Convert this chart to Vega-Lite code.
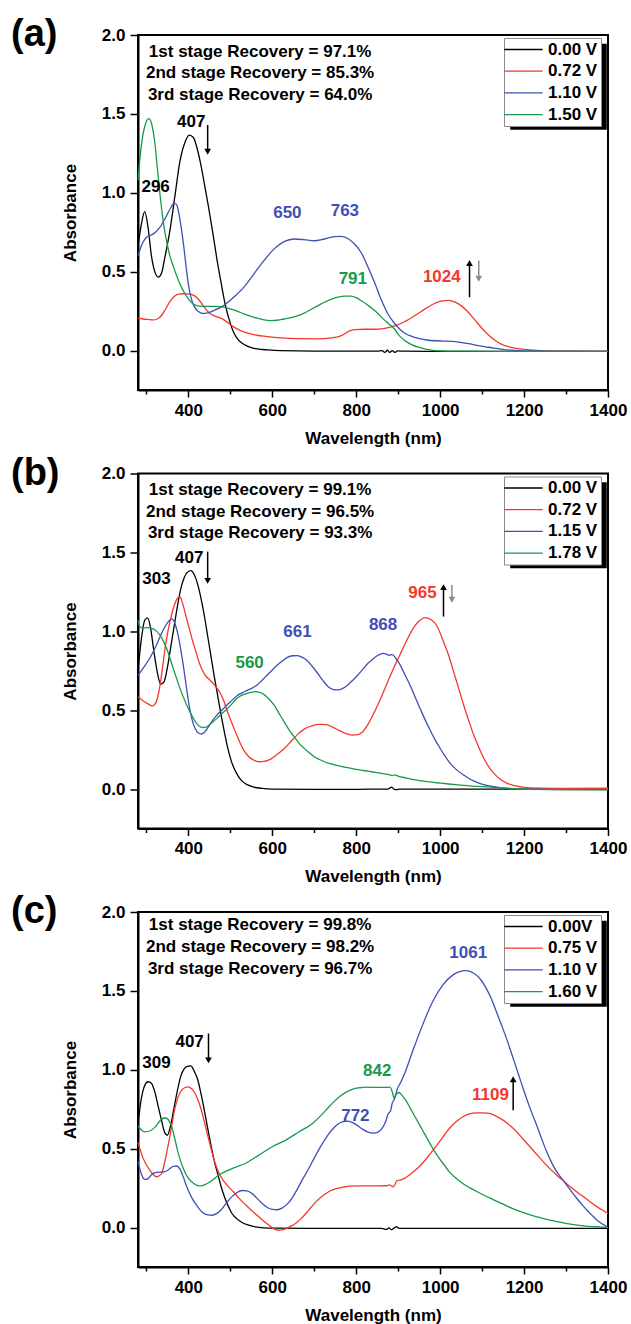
{
"$schema": "https://vega.github.io/schema/vega-lite/v6.json",
"background": "white",
"padding": {"left": 10, "top": 15, "right": 0, "bottom": 0},
"datasets": {
"lines": [
{"p":"a","s":"0.00 V","w":280,"a":0.66},{"p":"a","s":"0.00 V","w":288,"a":0.8},{"p":"a","s":"0.00 V","w":296,"a":0.88},{"p":"a","s":"0.00 V","w":304,"a":0.78},{"p":"a","s":"0.00 V","w":312,"a":0.6},{"p":"a","s":"0.00 V","w":320,"a":0.5},{"p":"a","s":"0.00 V","w":328,"a":0.465},{"p":"a","s":"0.00 V","w":336,"a":0.49},{"p":"a","s":"0.00 V","w":344,"a":0.59},{"p":"a","s":"0.00 V","w":356,"a":0.76},{"p":"a","s":"0.00 V","w":368,"a":0.98},{"p":"a","s":"0.00 V","w":380,"a":1.2},{"p":"a","s":"0.00 V","w":392,"a":1.32},{"p":"a","s":"0.00 V","w":402,"a":1.365},{"p":"a","s":"0.00 V","w":412,"a":1.35},{"p":"a","s":"0.00 V","w":420,"a":1.29},{"p":"a","s":"0.00 V","w":428,"a":1.2},{"p":"a","s":"0.00 V","w":438,"a":1.06},{"p":"a","s":"0.00 V","w":448,"a":0.91},{"p":"a","s":"0.00 V","w":458,"a":0.75},{"p":"a","s":"0.00 V","w":468,"a":0.58},{"p":"a","s":"0.00 V","w":478,"a":0.43},{"p":"a","s":"0.00 V","w":488,"a":0.29},{"p":"a","s":"0.00 V","w":498,"a":0.19},{"p":"a","s":"0.00 V","w":508,"a":0.115},{"p":"a","s":"0.00 V","w":520,"a":0.065},{"p":"a","s":"0.00 V","w":532,"a":0.04},{"p":"a","s":"0.00 V","w":548,"a":0.02},{"p":"a","s":"0.00 V","w":564,"a":0.01},{"p":"a","s":"0.00 V","w":590,"a":0.004},{"p":"a","s":"0.00 V","w":620,"a":0},{"p":"a","s":"0.00 V","w":700,"a":-0.003},{"p":"a","s":"0.00 V","w":800,"a":-0.003},{"p":"a","s":"0.00 V","w":850,"a":-0.004},{"p":"a","s":"0.00 V","w":862,"a":0},{"p":"a","s":"0.00 V","w":868,"a":-0.012},{"p":"a","s":"0.00 V","w":874,"a":0.002},{"p":"a","s":"0.00 V","w":880,"a":-0.012},{"p":"a","s":"0.00 V","w":886,"a":0},{"p":"a","s":"0.00 V","w":892,"a":-0.012},{"p":"a","s":"0.00 V","w":898,"a":-0.002},{"p":"a","s":"0.00 V","w":920,"a":-0.004},{"p":"a","s":"0.00 V","w":1000,"a":-0.005},{"p":"a","s":"0.00 V","w":1100,"a":-0.005},{"p":"a","s":"0.00 V","w":1200,"a":-0.005},{"p":"a","s":"0.00 V","w":1300,"a":-0.005},{"p":"a","s":"0.00 V","w":1400,"a":-0.005},
{"p":"a","s":"0.72 V","w":280,"a":0.205},{"p":"a","s":"0.72 V","w":292,"a":0.2},{"p":"a","s":"0.72 V","w":304,"a":0.197},{"p":"a","s":"0.72 V","w":316,"a":0.194},{"p":"a","s":"0.72 V","w":326,"a":0.2},{"p":"a","s":"0.72 V","w":336,"a":0.222},{"p":"a","s":"0.72 V","w":346,"a":0.265},{"p":"a","s":"0.72 V","w":356,"a":0.31},{"p":"a","s":"0.72 V","w":366,"a":0.342},{"p":"a","s":"0.72 V","w":376,"a":0.358},{"p":"a","s":"0.72 V","w":390,"a":0.36},{"p":"a","s":"0.72 V","w":404,"a":0.358},{"p":"a","s":"0.72 V","w":414,"a":0.348},{"p":"a","s":"0.72 V","w":424,"a":0.325},{"p":"a","s":"0.72 V","w":434,"a":0.29},{"p":"a","s":"0.72 V","w":444,"a":0.255},{"p":"a","s":"0.72 V","w":454,"a":0.232},{"p":"a","s":"0.72 V","w":466,"a":0.215},{"p":"a","s":"0.72 V","w":478,"a":0.205},{"p":"a","s":"0.72 V","w":490,"a":0.185},{"p":"a","s":"0.72 V","w":502,"a":0.16},{"p":"a","s":"0.72 V","w":516,"a":0.137},{"p":"a","s":"0.72 V","w":532,"a":0.118},{"p":"a","s":"0.72 V","w":548,"a":0.105},{"p":"a","s":"0.72 V","w":564,"a":0.097},{"p":"a","s":"0.72 V","w":580,"a":0.091},{"p":"a","s":"0.72 V","w":600,"a":0.085},{"p":"a","s":"0.72 V","w":620,"a":0.08},{"p":"a","s":"0.72 V","w":660,"a":0.075},{"p":"a","s":"0.72 V","w":708,"a":0.074},{"p":"a","s":"0.72 V","w":740,"a":0.08},{"p":"a","s":"0.72 V","w":760,"a":0.09},{"p":"a","s":"0.72 V","w":772,"a":0.105},{"p":"a","s":"0.72 V","w":784,"a":0.125},{"p":"a","s":"0.72 V","w":796,"a":0.133},{"p":"a","s":"0.72 V","w":820,"a":0.135},{"p":"a","s":"0.72 V","w":844,"a":0.135},{"p":"a","s":"0.72 V","w":868,"a":0.141},{"p":"a","s":"0.72 V","w":892,"a":0.156},{"p":"a","s":"0.72 V","w":916,"a":0.184},{"p":"a","s":"0.72 V","w":940,"a":0.222},{"p":"a","s":"0.72 V","w":964,"a":0.264},{"p":"a","s":"0.72 V","w":988,"a":0.3},{"p":"a","s":"0.72 V","w":1004,"a":0.315},{"p":"a","s":"0.72 V","w":1020,"a":0.318},{"p":"a","s":"0.72 V","w":1036,"a":0.307},{"p":"a","s":"0.72 V","w":1052,"a":0.28},{"p":"a","s":"0.72 V","w":1068,"a":0.24},{"p":"a","s":"0.72 V","w":1084,"a":0.19},{"p":"a","s":"0.72 V","w":1100,"a":0.14},{"p":"a","s":"0.72 V","w":1116,"a":0.097},{"p":"a","s":"0.72 V","w":1132,"a":0.062},{"p":"a","s":"0.72 V","w":1148,"a":0.038},{"p":"a","s":"0.72 V","w":1172,"a":0.019},{"p":"a","s":"0.72 V","w":1200,"a":0.007},{"p":"a","s":"0.72 V","w":1240,"a":0},{"p":"a","s":"0.72 V","w":1300,"a":-0.004},{"p":"a","s":"0.72 V","w":1400,"a":-0.005},
{"p":"a","s":"1.10 V","w":280,"a":0.6},{"p":"a","s":"1.10 V","w":288,"a":0.665},{"p":"a","s":"1.10 V","w":296,"a":0.705},{"p":"a","s":"1.10 V","w":304,"a":0.725},{"p":"a","s":"1.10 V","w":316,"a":0.738},{"p":"a","s":"1.10 V","w":332,"a":0.78},{"p":"a","s":"1.10 V","w":348,"a":0.854},{"p":"a","s":"1.10 V","w":358,"a":0.905},{"p":"a","s":"1.10 V","w":366,"a":0.935},{"p":"a","s":"1.10 V","w":372,"a":0.925},{"p":"a","s":"1.10 V","w":378,"a":0.86},{"p":"a","s":"1.10 V","w":384,"a":0.76},{"p":"a","s":"1.10 V","w":390,"a":0.64},{"p":"a","s":"1.10 V","w":396,"a":0.5},{"p":"a","s":"1.10 V","w":402,"a":0.39},{"p":"a","s":"1.10 V","w":408,"a":0.32},{"p":"a","s":"1.10 V","w":414,"a":0.28},{"p":"a","s":"1.10 V","w":424,"a":0.247},{"p":"a","s":"1.10 V","w":434,"a":0.235},{"p":"a","s":"1.10 V","w":444,"a":0.237},{"p":"a","s":"1.10 V","w":460,"a":0.253},{"p":"a","s":"1.10 V","w":484,"a":0.285},{"p":"a","s":"1.10 V","w":508,"a":0.338},{"p":"a","s":"1.10 V","w":532,"a":0.4},{"p":"a","s":"1.10 V","w":556,"a":0.485},{"p":"a","s":"1.10 V","w":580,"a":0.57},{"p":"a","s":"1.10 V","w":604,"a":0.643},{"p":"a","s":"1.10 V","w":628,"a":0.69},{"p":"a","s":"1.10 V","w":652,"a":0.707},{"p":"a","s":"1.10 V","w":676,"a":0.703},{"p":"a","s":"1.10 V","w":700,"a":0.696},{"p":"a","s":"1.10 V","w":724,"a":0.707},{"p":"a","s":"1.10 V","w":748,"a":0.722},{"p":"a","s":"1.10 V","w":764,"a":0.724},{"p":"a","s":"1.10 V","w":780,"a":0.71},{"p":"a","s":"1.10 V","w":796,"a":0.675},{"p":"a","s":"1.10 V","w":812,"a":0.62},{"p":"a","s":"1.10 V","w":828,"a":0.53},{"p":"a","s":"1.10 V","w":844,"a":0.43},{"p":"a","s":"1.10 V","w":860,"a":0.32},{"p":"a","s":"1.10 V","w":876,"a":0.23},{"p":"a","s":"1.10 V","w":892,"a":0.17},{"p":"a","s":"1.10 V","w":904,"a":0.135},{"p":"a","s":"1.10 V","w":916,"a":0.11},{"p":"a","s":"1.10 V","w":932,"a":0.09},{"p":"a","s":"1.10 V","w":948,"a":0.077},{"p":"a","s":"1.10 V","w":968,"a":0.067},{"p":"a","s":"1.10 V","w":988,"a":0.062},{"p":"a","s":"1.10 V","w":1008,"a":0.06},{"p":"a","s":"1.10 V","w":1028,"a":0.058},{"p":"a","s":"1.10 V","w":1048,"a":0.052},{"p":"a","s":"1.10 V","w":1068,"a":0.044},{"p":"a","s":"1.10 V","w":1088,"a":0.033},{"p":"a","s":"1.10 V","w":1108,"a":0.024},{"p":"a","s":"1.10 V","w":1128,"a":0.015},{"p":"a","s":"1.10 V","w":1148,"a":0.008},{"p":"a","s":"1.10 V","w":1168,"a":0.003},{"p":"a","s":"1.10 V","w":1188,"a":0},{"p":"a","s":"1.10 V","w":1250,"a":-0.003},{"p":"a","s":"1.10 V","w":1400,"a":-0.005},
{"p":"a","s":"1.50 V","w":280,"a":1.08},{"p":"a","s":"1.50 V","w":288,"a":1.3},{"p":"a","s":"1.50 V","w":296,"a":1.42},{"p":"a","s":"1.50 V","w":306,"a":1.47},{"p":"a","s":"1.50 V","w":314,"a":1.42},{"p":"a","s":"1.50 V","w":320,"a":1.32},{"p":"a","s":"1.50 V","w":326,"a":1.16},{"p":"a","s":"1.50 V","w":332,"a":1.0},{"p":"a","s":"1.50 V","w":338,"a":0.86},{"p":"a","s":"1.50 V","w":344,"a":0.75},{"p":"a","s":"1.50 V","w":350,"a":0.67},{"p":"a","s":"1.50 V","w":356,"a":0.6},{"p":"a","s":"1.50 V","w":364,"a":0.535},{"p":"a","s":"1.50 V","w":372,"a":0.475},{"p":"a","s":"1.50 V","w":382,"a":0.41},{"p":"a","s":"1.50 V","w":392,"a":0.36},{"p":"a","s":"1.50 V","w":402,"a":0.32},{"p":"a","s":"1.50 V","w":412,"a":0.295},{"p":"a","s":"1.50 V","w":422,"a":0.283},{"p":"a","s":"1.50 V","w":432,"a":0.28},{"p":"a","s":"1.50 V","w":450,"a":0.28},{"p":"a","s":"1.50 V","w":468,"a":0.28},{"p":"a","s":"1.50 V","w":484,"a":0.275},{"p":"a","s":"1.50 V","w":500,"a":0.264},{"p":"a","s":"1.50 V","w":516,"a":0.25},{"p":"a","s":"1.50 V","w":532,"a":0.232},{"p":"a","s":"1.50 V","w":548,"a":0.218},{"p":"a","s":"1.50 V","w":564,"a":0.205},{"p":"a","s":"1.50 V","w":580,"a":0.195},{"p":"a","s":"1.50 V","w":596,"a":0.19},{"p":"a","s":"1.50 V","w":612,"a":0.192},{"p":"a","s":"1.50 V","w":628,"a":0.2},{"p":"a","s":"1.50 V","w":644,"a":0.208},{"p":"a","s":"1.50 V","w":660,"a":0.22},{"p":"a","s":"1.50 V","w":676,"a":0.237},{"p":"a","s":"1.50 V","w":692,"a":0.26},{"p":"a","s":"1.50 V","w":708,"a":0.283},{"p":"a","s":"1.50 V","w":724,"a":0.306},{"p":"a","s":"1.50 V","w":740,"a":0.325},{"p":"a","s":"1.50 V","w":756,"a":0.338},{"p":"a","s":"1.50 V","w":772,"a":0.345},{"p":"a","s":"1.50 V","w":788,"a":0.345},{"p":"a","s":"1.50 V","w":800,"a":0.335},{"p":"a","s":"1.50 V","w":812,"a":0.316},{"p":"a","s":"1.50 V","w":824,"a":0.295},{"p":"a","s":"1.50 V","w":836,"a":0.27},{"p":"a","s":"1.50 V","w":848,"a":0.245},{"p":"a","s":"1.50 V","w":860,"a":0.212},{"p":"a","s":"1.50 V","w":872,"a":0.182},{"p":"a","s":"1.50 V","w":884,"a":0.155},{"p":"a","s":"1.50 V","w":892,"a":0.135},{"p":"a","s":"1.50 V","w":898,"a":0.11},{"p":"a","s":"1.50 V","w":906,"a":0.085},{"p":"a","s":"1.50 V","w":916,"a":0.063},{"p":"a","s":"1.50 V","w":932,"a":0.038},{"p":"a","s":"1.50 V","w":948,"a":0.021},{"p":"a","s":"1.50 V","w":968,"a":0.008},{"p":"a","s":"1.50 V","w":988,"a":0},{"p":"a","s":"1.50 V","w":1050,"a":-0.004},{"p":"a","s":"1.50 V","w":1150,"a":-0.005},{"p":"a","s":"1.50 V","w":1400,"a":-0.005},

{"p":"b","s":"0.00 V","w":280,"a":0.75},{"p":"b","s":"0.00 V","w":288,"a":0.95},{"p":"b","s":"0.00 V","w":296,"a":1.07},{"p":"b","s":"0.00 V","w":303,"a":1.085},{"p":"b","s":"0.00 V","w":310,"a":1.02},{"p":"b","s":"0.00 V","w":318,"a":0.87},{"p":"b","s":"0.00 V","w":326,"a":0.74},{"p":"b","s":"0.00 V","w":334,"a":0.665},{"p":"b","s":"0.00 V","w":342,"a":0.68},{"p":"b","s":"0.00 V","w":350,"a":0.77},{"p":"b","s":"0.00 V","w":358,"a":0.9},{"p":"b","s":"0.00 V","w":366,"a":1.03},{"p":"b","s":"0.00 V","w":374,"a":1.16},{"p":"b","s":"0.00 V","w":382,"a":1.27},{"p":"b","s":"0.00 V","w":390,"a":1.34},{"p":"b","s":"0.00 V","w":398,"a":1.375},{"p":"b","s":"0.00 V","w":406,"a":1.385},{"p":"b","s":"0.00 V","w":414,"a":1.36},{"p":"b","s":"0.00 V","w":422,"a":1.3},{"p":"b","s":"0.00 V","w":430,"a":1.21},{"p":"b","s":"0.00 V","w":438,"a":1.1},{"p":"b","s":"0.00 V","w":446,"a":0.97},{"p":"b","s":"0.00 V","w":454,"a":0.84},{"p":"b","s":"0.00 V","w":462,"a":0.71},{"p":"b","s":"0.00 V","w":470,"a":0.59},{"p":"b","s":"0.00 V","w":478,"a":0.47},{"p":"b","s":"0.00 V","w":486,"a":0.36},{"p":"b","s":"0.00 V","w":494,"a":0.26},{"p":"b","s":"0.00 V","w":502,"a":0.18},{"p":"b","s":"0.00 V","w":510,"a":0.125},{"p":"b","s":"0.00 V","w":518,"a":0.085},{"p":"b","s":"0.00 V","w":528,"a":0.05},{"p":"b","s":"0.00 V","w":540,"a":0.028},{"p":"b","s":"0.00 V","w":556,"a":0.012},{"p":"b","s":"0.00 V","w":576,"a":0.004},{"p":"b","s":"0.00 V","w":600,"a":0},{"p":"b","s":"0.00 V","w":700,"a":-0.002},{"p":"b","s":"0.00 V","w":800,"a":-0.002},{"p":"b","s":"0.00 V","w":860,"a":0},{"p":"b","s":"0.00 V","w":876,"a":0},{"p":"b","s":"0.00 V","w":884,"a":0.012},{"p":"b","s":"0.00 V","w":890,"a":0},{"p":"b","s":"0.00 V","w":896,"a":-0.004},{"p":"b","s":"0.00 V","w":904,"a":0},{"p":"b","s":"0.00 V","w":1000,"a":0},{"p":"b","s":"0.00 V","w":1100,"a":0},{"p":"b","s":"0.00 V","w":1200,"a":0},{"p":"b","s":"0.00 V","w":1400,"a":0},
{"p":"b","s":"0.72 V","w":280,"a":0.585},{"p":"b","s":"0.72 V","w":292,"a":0.56},{"p":"b","s":"0.72 V","w":304,"a":0.54},{"p":"b","s":"0.72 V","w":314,"a":0.527},{"p":"b","s":"0.72 V","w":322,"a":0.545},{"p":"b","s":"0.72 V","w":330,"a":0.62},{"p":"b","s":"0.72 V","w":338,"a":0.76},{"p":"b","s":"0.72 V","w":346,"a":0.92},{"p":"b","s":"0.72 V","w":356,"a":1.06},{"p":"b","s":"0.72 V","w":366,"a":1.16},{"p":"b","s":"0.72 V","w":374,"a":1.21},{"p":"b","s":"0.72 V","w":380,"a":1.22},{"p":"b","s":"0.72 V","w":386,"a":1.18},{"p":"b","s":"0.72 V","w":394,"a":1.1},{"p":"b","s":"0.72 V","w":402,"a":1.02},{"p":"b","s":"0.72 V","w":410,"a":0.94},{"p":"b","s":"0.72 V","w":418,"a":0.87},{"p":"b","s":"0.72 V","w":426,"a":0.8},{"p":"b","s":"0.72 V","w":434,"a":0.75},{"p":"b","s":"0.72 V","w":442,"a":0.715},{"p":"b","s":"0.72 V","w":452,"a":0.69},{"p":"b","s":"0.72 V","w":462,"a":0.66},{"p":"b","s":"0.72 V","w":472,"a":0.625},{"p":"b","s":"0.72 V","w":482,"a":0.575},{"p":"b","s":"0.72 V","w":492,"a":0.5},{"p":"b","s":"0.72 V","w":502,"a":0.43},{"p":"b","s":"0.72 V","w":512,"a":0.364},{"p":"b","s":"0.72 V","w":522,"a":0.3},{"p":"b","s":"0.72 V","w":532,"a":0.247},{"p":"b","s":"0.72 V","w":544,"a":0.205},{"p":"b","s":"0.72 V","w":556,"a":0.183},{"p":"b","s":"0.72 V","w":568,"a":0.173},{"p":"b","s":"0.72 V","w":580,"a":0.175},{"p":"b","s":"0.72 V","w":596,"a":0.19},{"p":"b","s":"0.72 V","w":612,"a":0.22},{"p":"b","s":"0.72 V","w":628,"a":0.255},{"p":"b","s":"0.72 V","w":644,"a":0.3},{"p":"b","s":"0.72 V","w":660,"a":0.345},{"p":"b","s":"0.72 V","w":676,"a":0.38},{"p":"b","s":"0.72 V","w":696,"a":0.402},{"p":"b","s":"0.72 V","w":712,"a":0.41},{"p":"b","s":"0.72 V","w":728,"a":0.408},{"p":"b","s":"0.72 V","w":744,"a":0.392},{"p":"b","s":"0.72 V","w":760,"a":0.37},{"p":"b","s":"0.72 V","w":776,"a":0.352},{"p":"b","s":"0.72 V","w":792,"a":0.342},{"p":"b","s":"0.72 V","w":804,"a":0.345},{"p":"b","s":"0.72 V","w":816,"a":0.365},{"p":"b","s":"0.72 V","w":828,"a":0.41},{"p":"b","s":"0.72 V","w":840,"a":0.47},{"p":"b","s":"0.72 V","w":856,"a":0.56},{"p":"b","s":"0.72 V","w":872,"a":0.66},{"p":"b","s":"0.72 V","w":888,"a":0.76},{"p":"b","s":"0.72 V","w":904,"a":0.85},{"p":"b","s":"0.72 V","w":920,"a":0.94},{"p":"b","s":"0.72 V","w":936,"a":1.02},{"p":"b","s":"0.72 V","w":950,"a":1.065},{"p":"b","s":"0.72 V","w":964,"a":1.087},{"p":"b","s":"0.72 V","w":978,"a":1.075},{"p":"b","s":"0.72 V","w":992,"a":1.035},{"p":"b","s":"0.72 V","w":1008,"a":0.934},{"p":"b","s":"0.72 V","w":1020,"a":0.85},{"p":"b","s":"0.72 V","w":1032,"a":0.744},{"p":"b","s":"0.72 V","w":1044,"a":0.64},{"p":"b","s":"0.72 V","w":1056,"a":0.533},{"p":"b","s":"0.72 V","w":1068,"a":0.435},{"p":"b","s":"0.72 V","w":1080,"a":0.342},{"p":"b","s":"0.72 V","w":1092,"a":0.265},{"p":"b","s":"0.72 V","w":1104,"a":0.195},{"p":"b","s":"0.72 V","w":1116,"a":0.14},{"p":"b","s":"0.72 V","w":1128,"a":0.099},{"p":"b","s":"0.72 V","w":1144,"a":0.06},{"p":"b","s":"0.72 V","w":1160,"a":0.036},{"p":"b","s":"0.72 V","w":1180,"a":0.02},{"p":"b","s":"0.72 V","w":1200,"a":0.011},{"p":"b","s":"0.72 V","w":1240,"a":0.006},{"p":"b","s":"0.72 V","w":1300,"a":0.004},{"p":"b","s":"0.72 V","w":1400,"a":0.005},
{"p":"b","s":"1.15 V","w":280,"a":0.72},{"p":"b","s":"1.15 V","w":292,"a":0.765},{"p":"b","s":"1.15 V","w":308,"a":0.829},{"p":"b","s":"1.15 V","w":324,"a":0.913},{"p":"b","s":"1.15 V","w":340,"a":1.008},{"p":"b","s":"1.15 V","w":352,"a":1.06},{"p":"b","s":"1.15 V","w":360,"a":1.078},{"p":"b","s":"1.15 V","w":368,"a":1.05},{"p":"b","s":"1.15 V","w":376,"a":0.97},{"p":"b","s":"1.15 V","w":384,"a":0.85},{"p":"b","s":"1.15 V","w":392,"a":0.71},{"p":"b","s":"1.15 V","w":400,"a":0.56},{"p":"b","s":"1.15 V","w":408,"a":0.45},{"p":"b","s":"1.15 V","w":416,"a":0.385},{"p":"b","s":"1.15 V","w":424,"a":0.355},{"p":"b","s":"1.15 V","w":432,"a":0.349},{"p":"b","s":"1.15 V","w":440,"a":0.365},{"p":"b","s":"1.15 V","w":448,"a":0.395},{"p":"b","s":"1.15 V","w":458,"a":0.435},{"p":"b","s":"1.15 V","w":468,"a":0.469},{"p":"b","s":"1.15 V","w":480,"a":0.5},{"p":"b","s":"1.15 V","w":492,"a":0.533},{"p":"b","s":"1.15 V","w":504,"a":0.562},{"p":"b","s":"1.15 V","w":516,"a":0.592},{"p":"b","s":"1.15 V","w":528,"a":0.61},{"p":"b","s":"1.15 V","w":540,"a":0.625},{"p":"b","s":"1.15 V","w":552,"a":0.64},{"p":"b","s":"1.15 V","w":564,"a":0.66},{"p":"b","s":"1.15 V","w":576,"a":0.69},{"p":"b","s":"1.15 V","w":588,"a":0.723},{"p":"b","s":"1.15 V","w":600,"a":0.755},{"p":"b","s":"1.15 V","w":612,"a":0.786},{"p":"b","s":"1.15 V","w":624,"a":0.812},{"p":"b","s":"1.15 V","w":636,"a":0.835},{"p":"b","s":"1.15 V","w":648,"a":0.845},{"p":"b","s":"1.15 V","w":660,"a":0.846},{"p":"b","s":"1.15 V","w":672,"a":0.835},{"p":"b","s":"1.15 V","w":684,"a":0.812},{"p":"b","s":"1.15 V","w":696,"a":0.775},{"p":"b","s":"1.15 V","w":708,"a":0.734},{"p":"b","s":"1.15 V","w":720,"a":0.69},{"p":"b","s":"1.15 V","w":732,"a":0.652},{"p":"b","s":"1.15 V","w":744,"a":0.632},{"p":"b","s":"1.15 V","w":756,"a":0.628},{"p":"b","s":"1.15 V","w":768,"a":0.638},{"p":"b","s":"1.15 V","w":780,"a":0.66},{"p":"b","s":"1.15 V","w":792,"a":0.69},{"p":"b","s":"1.15 V","w":804,"a":0.723},{"p":"b","s":"1.15 V","w":816,"a":0.76},{"p":"b","s":"1.15 V","w":828,"a":0.797},{"p":"b","s":"1.15 V","w":840,"a":0.825},{"p":"b","s":"1.15 V","w":852,"a":0.848},{"p":"b","s":"1.15 V","w":864,"a":0.86},{"p":"b","s":"1.15 V","w":872,"a":0.855},{"p":"b","s":"1.15 V","w":878,"a":0.848},{"p":"b","s":"1.15 V","w":886,"a":0.852},{"p":"b","s":"1.15 V","w":894,"a":0.83},{"p":"b","s":"1.15 V","w":904,"a":0.79},{"p":"b","s":"1.15 V","w":916,"a":0.725},{"p":"b","s":"1.15 V","w":928,"a":0.66},{"p":"b","s":"1.15 V","w":940,"a":0.585},{"p":"b","s":"1.15 V","w":952,"a":0.512},{"p":"b","s":"1.15 V","w":964,"a":0.44},{"p":"b","s":"1.15 V","w":976,"a":0.374},{"p":"b","s":"1.15 V","w":988,"a":0.312},{"p":"b","s":"1.15 V","w":1000,"a":0.258},{"p":"b","s":"1.15 V","w":1012,"a":0.207},{"p":"b","s":"1.15 V","w":1024,"a":0.163},{"p":"b","s":"1.15 V","w":1040,"a":0.12},{"p":"b","s":"1.15 V","w":1056,"a":0.089},{"p":"b","s":"1.15 V","w":1072,"a":0.062},{"p":"b","s":"1.15 V","w":1088,"a":0.042},{"p":"b","s":"1.15 V","w":1108,"a":0.025},{"p":"b","s":"1.15 V","w":1128,"a":0.015},{"p":"b","s":"1.15 V","w":1148,"a":0.007},{"p":"b","s":"1.15 V","w":1168,"a":0.002},{"p":"b","s":"1.15 V","w":1200,"a":-0.002},{"p":"b","s":"1.15 V","w":1300,"a":-0.003},{"p":"b","s":"1.15 V","w":1400,"a":-0.003},
{"p":"b","s":"1.78 V","w":280,"a":1.07},{"p":"b","s":"1.78 V","w":284,"a":1.03},{"p":"b","s":"1.78 V","w":292,"a":1.02},{"p":"b","s":"1.78 V","w":300,"a":1.023},{"p":"b","s":"1.78 V","w":316,"a":1.015},{"p":"b","s":"1.78 V","w":332,"a":0.977},{"p":"b","s":"1.78 V","w":348,"a":0.892},{"p":"b","s":"1.78 V","w":364,"a":0.765},{"p":"b","s":"1.78 V","w":380,"a":0.638},{"p":"b","s":"1.78 V","w":396,"a":0.533},{"p":"b","s":"1.78 V","w":412,"a":0.448},{"p":"b","s":"1.78 V","w":420,"a":0.415},{"p":"b","s":"1.78 V","w":428,"a":0.395},{"p":"b","s":"1.78 V","w":436,"a":0.39},{"p":"b","s":"1.78 V","w":444,"a":0.395},{"p":"b","s":"1.78 V","w":456,"a":0.42},{"p":"b","s":"1.78 V","w":468,"a":0.448},{"p":"b","s":"1.78 V","w":480,"a":0.478},{"p":"b","s":"1.78 V","w":492,"a":0.507},{"p":"b","s":"1.78 V","w":504,"a":0.54},{"p":"b","s":"1.78 V","w":516,"a":0.575},{"p":"b","s":"1.78 V","w":528,"a":0.595},{"p":"b","s":"1.78 V","w":540,"a":0.607},{"p":"b","s":"1.78 V","w":552,"a":0.615},{"p":"b","s":"1.78 V","w":560,"a":0.617},{"p":"b","s":"1.78 V","w":570,"a":0.613},{"p":"b","s":"1.78 V","w":580,"a":0.6},{"p":"b","s":"1.78 V","w":592,"a":0.57},{"p":"b","s":"1.78 V","w":604,"a":0.533},{"p":"b","s":"1.78 V","w":616,"a":0.48},{"p":"b","s":"1.78 V","w":628,"a":0.427},{"p":"b","s":"1.78 V","w":640,"a":0.375},{"p":"b","s":"1.78 V","w":652,"a":0.332},{"p":"b","s":"1.78 V","w":664,"a":0.29},{"p":"b","s":"1.78 V","w":676,"a":0.258},{"p":"b","s":"1.78 V","w":688,"a":0.23},{"p":"b","s":"1.78 V","w":700,"a":0.205},{"p":"b","s":"1.78 V","w":712,"a":0.188},{"p":"b","s":"1.78 V","w":724,"a":0.173},{"p":"b","s":"1.78 V","w":740,"a":0.16},{"p":"b","s":"1.78 V","w":756,"a":0.148},{"p":"b","s":"1.78 V","w":772,"a":0.139},{"p":"b","s":"1.78 V","w":788,"a":0.131},{"p":"b","s":"1.78 V","w":804,"a":0.123},{"p":"b","s":"1.78 V","w":820,"a":0.116},{"p":"b","s":"1.78 V","w":840,"a":0.108},{"p":"b","s":"1.78 V","w":864,"a":0.098},{"p":"b","s":"1.78 V","w":880,"a":0.09},{"p":"b","s":"1.78 V","w":886,"a":0.085},{"p":"b","s":"1.78 V","w":892,"a":0.09},{"p":"b","s":"1.78 V","w":900,"a":0.082},{"p":"b","s":"1.78 V","w":920,"a":0.07},{"p":"b","s":"1.78 V","w":944,"a":0.057},{"p":"b","s":"1.78 V","w":968,"a":0.047},{"p":"b","s":"1.78 V","w":992,"a":0.04},{"p":"b","s":"1.78 V","w":1020,"a":0.032},{"p":"b","s":"1.78 V","w":1048,"a":0.025},{"p":"b","s":"1.78 V","w":1076,"a":0.019},{"p":"b","s":"1.78 V","w":1104,"a":0.015},{"p":"b","s":"1.78 V","w":1136,"a":0.009},{"p":"b","s":"1.78 V","w":1168,"a":0.004},{"p":"b","s":"1.78 V","w":1200,"a":0},{"p":"b","s":"1.78 V","w":1232,"a":-0.002},{"p":"b","s":"1.78 V","w":1300,"a":-0.004},{"p":"b","s":"1.78 V","w":1400,"a":-0.005},

{"p":"c","s":"0.00V","w":280,"a":0.66},{"p":"c","s":"0.00V","w":288,"a":0.818},{"p":"c","s":"0.00V","w":296,"a":0.9},{"p":"c","s":"0.00V","w":304,"a":0.924},{"p":"c","s":"0.00V","w":312,"a":0.915},{"p":"c","s":"0.00V","w":320,"a":0.86},{"p":"c","s":"0.00V","w":328,"a":0.77},{"p":"c","s":"0.00V","w":336,"a":0.68},{"p":"c","s":"0.00V","w":344,"a":0.6},{"p":"c","s":"0.00V","w":350,"a":0.585},{"p":"c","s":"0.00V","w":358,"a":0.65},{"p":"c","s":"0.00V","w":366,"a":0.76},{"p":"c","s":"0.00V","w":374,"a":0.87},{"p":"c","s":"0.00V","w":382,"a":0.96},{"p":"c","s":"0.00V","w":390,"a":1.005},{"p":"c","s":"0.00V","w":398,"a":1.022},{"p":"c","s":"0.00V","w":406,"a":1.025},{"p":"c","s":"0.00V","w":414,"a":0.99},{"p":"c","s":"0.00V","w":422,"a":0.94},{"p":"c","s":"0.00V","w":430,"a":0.85},{"p":"c","s":"0.00V","w":438,"a":0.745},{"p":"c","s":"0.00V","w":446,"a":0.63},{"p":"c","s":"0.00V","w":454,"a":0.52},{"p":"c","s":"0.00V","w":462,"a":0.42},{"p":"c","s":"0.00V","w":470,"a":0.34},{"p":"c","s":"0.00V","w":478,"a":0.26},{"p":"c","s":"0.00V","w":486,"a":0.195},{"p":"c","s":"0.00V","w":496,"a":0.13},{"p":"c","s":"0.00V","w":504,"a":0.089},{"p":"c","s":"0.00V","w":516,"a":0.055},{"p":"c","s":"0.00V","w":528,"a":0.032},{"p":"c","s":"0.00V","w":544,"a":0.015},{"p":"c","s":"0.00V","w":560,"a":0.004},{"p":"c","s":"0.00V","w":580,"a":-0.002},{"p":"c","s":"0.00V","w":600,"a":-0.004},{"p":"c","s":"0.00V","w":700,"a":-0.005},{"p":"c","s":"0.00V","w":800,"a":-0.005},{"p":"c","s":"0.00V","w":860,"a":-0.005},{"p":"c","s":"0.00V","w":872,"a":-0.012},{"p":"c","s":"0.00V","w":878,"a":-0.002},{"p":"c","s":"0.00V","w":884,"a":-0.014},{"p":"c","s":"0.00V","w":890,"a":-0.004},{"p":"c","s":"0.00V","w":896,"a":0.006},{"p":"c","s":"0.00V","w":902,"a":-0.005},{"p":"c","s":"0.00V","w":1000,"a":-0.005},{"p":"c","s":"0.00V","w":1100,"a":-0.005},{"p":"c","s":"0.00V","w":1200,"a":-0.005},{"p":"c","s":"0.00V","w":1300,"a":-0.005},{"p":"c","s":"0.00V","w":1400,"a":-0.005},
{"p":"c","s":"0.75 V","w":280,"a":0.54},{"p":"c","s":"0.75 V","w":292,"a":0.44},{"p":"c","s":"0.75 V","w":308,"a":0.364},{"p":"c","s":"0.75 V","w":324,"a":0.322},{"p":"c","s":"0.75 V","w":336,"a":0.34},{"p":"c","s":"0.75 V","w":344,"a":0.42},{"p":"c","s":"0.75 V","w":352,"a":0.522},{"p":"c","s":"0.75 V","w":360,"a":0.64},{"p":"c","s":"0.75 V","w":368,"a":0.755},{"p":"c","s":"0.75 V","w":376,"a":0.83},{"p":"c","s":"0.75 V","w":384,"a":0.871},{"p":"c","s":"0.75 V","w":398,"a":0.892},{"p":"c","s":"0.75 V","w":408,"a":0.88},{"p":"c","s":"0.75 V","w":416,"a":0.85},{"p":"c","s":"0.75 V","w":424,"a":0.8},{"p":"c","s":"0.75 V","w":432,"a":0.734},{"p":"c","s":"0.75 V","w":440,"a":0.65},{"p":"c","s":"0.75 V","w":448,"a":0.564},{"p":"c","s":"0.75 V","w":456,"a":0.48},{"p":"c","s":"0.75 V","w":464,"a":0.406},{"p":"c","s":"0.75 V","w":472,"a":0.35},{"p":"c","s":"0.75 V","w":480,"a":0.311},{"p":"c","s":"0.75 V","w":496,"a":0.258},{"p":"c","s":"0.75 V","w":508,"a":0.225},{"p":"c","s":"0.75 V","w":520,"a":0.188},{"p":"c","s":"0.75 V","w":532,"a":0.155},{"p":"c","s":"0.75 V","w":544,"a":0.125},{"p":"c","s":"0.75 V","w":556,"a":0.095},{"p":"c","s":"0.75 V","w":568,"a":0.068},{"p":"c","s":"0.75 V","w":580,"a":0.04},{"p":"c","s":"0.75 V","w":592,"a":0.015},{"p":"c","s":"0.75 V","w":604,"a":-0.008},{"p":"c","s":"0.75 V","w":614,"a":-0.017},{"p":"c","s":"0.75 V","w":624,"a":-0.015},{"p":"c","s":"0.75 V","w":632,"a":-0.008},{"p":"c","s":"0.75 V","w":644,"a":0.008},{"p":"c","s":"0.75 V","w":656,"a":0.027},{"p":"c","s":"0.75 V","w":668,"a":0.055},{"p":"c","s":"0.75 V","w":680,"a":0.089},{"p":"c","s":"0.75 V","w":692,"a":0.127},{"p":"c","s":"0.75 V","w":704,"a":0.163},{"p":"c","s":"0.75 V","w":716,"a":0.192},{"p":"c","s":"0.75 V","w":728,"a":0.216},{"p":"c","s":"0.75 V","w":740,"a":0.235},{"p":"c","s":"0.75 V","w":752,"a":0.247},{"p":"c","s":"0.75 V","w":768,"a":0.256},{"p":"c","s":"0.75 V","w":784,"a":0.262},{"p":"c","s":"0.75 V","w":816,"a":0.264},{"p":"c","s":"0.75 V","w":848,"a":0.264},{"p":"c","s":"0.75 V","w":872,"a":0.265},{"p":"c","s":"0.75 V","w":880,"a":0.27},{"p":"c","s":"0.75 V","w":886,"a":0.258},{"p":"c","s":"0.75 V","w":892,"a":0.27},{"p":"c","s":"0.75 V","w":896,"a":0.295},{"p":"c","s":"0.75 V","w":910,"a":0.305},{"p":"c","s":"0.75 V","w":926,"a":0.332},{"p":"c","s":"0.75 V","w":950,"a":0.385},{"p":"c","s":"0.75 V","w":974,"a":0.459},{"p":"c","s":"0.75 V","w":998,"a":0.543},{"p":"c","s":"0.75 V","w":1022,"a":0.628},{"p":"c","s":"0.75 V","w":1038,"a":0.67},{"p":"c","s":"0.75 V","w":1054,"a":0.702},{"p":"c","s":"0.75 V","w":1070,"a":0.72},{"p":"c","s":"0.75 V","w":1086,"a":0.727},{"p":"c","s":"0.75 V","w":1102,"a":0.727},{"p":"c","s":"0.75 V","w":1118,"a":0.723},{"p":"c","s":"0.75 V","w":1134,"a":0.705},{"p":"c","s":"0.75 V","w":1150,"a":0.681},{"p":"c","s":"0.75 V","w":1166,"a":0.648},{"p":"c","s":"0.75 V","w":1182,"a":0.607},{"p":"c","s":"0.75 V","w":1198,"a":0.56},{"p":"c","s":"0.75 V","w":1214,"a":0.512},{"p":"c","s":"0.75 V","w":1230,"a":0.464},{"p":"c","s":"0.75 V","w":1246,"a":0.416},{"p":"c","s":"0.75 V","w":1262,"a":0.372},{"p":"c","s":"0.75 V","w":1278,"a":0.332},{"p":"c","s":"0.75 V","w":1294,"a":0.295},{"p":"c","s":"0.75 V","w":1310,"a":0.258},{"p":"c","s":"0.75 V","w":1326,"a":0.225},{"p":"c","s":"0.75 V","w":1342,"a":0.195},{"p":"c","s":"0.75 V","w":1358,"a":0.162},{"p":"c","s":"0.75 V","w":1374,"a":0.131},{"p":"c","s":"0.75 V","w":1390,"a":0.105},{"p":"c","s":"0.75 V","w":1400,"a":0.089},
{"p":"c","s":"1.10 V","w":280,"a":0.42},{"p":"c","s":"1.10 V","w":288,"a":0.34},{"p":"c","s":"1.10 V","w":296,"a":0.305},{"p":"c","s":"1.10 V","w":304,"a":0.31},{"p":"c","s":"1.10 V","w":312,"a":0.335},{"p":"c","s":"1.10 V","w":324,"a":0.35},{"p":"c","s":"1.10 V","w":340,"a":0.352},{"p":"c","s":"1.10 V","w":352,"a":0.365},{"p":"c","s":"1.10 V","w":364,"a":0.388},{"p":"c","s":"1.10 V","w":372,"a":0.39},{"p":"c","s":"1.10 V","w":380,"a":0.37},{"p":"c","s":"1.10 V","w":388,"a":0.32},{"p":"c","s":"1.10 V","w":396,"a":0.26},{"p":"c","s":"1.10 V","w":408,"a":0.19},{"p":"c","s":"1.10 V","w":420,"a":0.14},{"p":"c","s":"1.10 V","w":432,"a":0.1},{"p":"c","s":"1.10 V","w":444,"a":0.082},{"p":"c","s":"1.10 V","w":456,"a":0.078},{"p":"c","s":"1.10 V","w":468,"a":0.09},{"p":"c","s":"1.10 V","w":480,"a":0.118},{"p":"c","s":"1.10 V","w":492,"a":0.16},{"p":"c","s":"1.10 V","w":504,"a":0.196},{"p":"c","s":"1.10 V","w":516,"a":0.222},{"p":"c","s":"1.10 V","w":528,"a":0.235},{"p":"c","s":"1.10 V","w":540,"a":0.232},{"p":"c","s":"1.10 V","w":552,"a":0.215},{"p":"c","s":"1.10 V","w":564,"a":0.185},{"p":"c","s":"1.10 V","w":576,"a":0.152},{"p":"c","s":"1.10 V","w":588,"a":0.127},{"p":"c","s":"1.10 V","w":600,"a":0.115},{"p":"c","s":"1.10 V","w":612,"a":0.113},{"p":"c","s":"1.10 V","w":624,"a":0.125},{"p":"c","s":"1.10 V","w":636,"a":0.15},{"p":"c","s":"1.10 V","w":648,"a":0.19},{"p":"c","s":"1.10 V","w":660,"a":0.245},{"p":"c","s":"1.10 V","w":672,"a":0.305},{"p":"c","s":"1.10 V","w":684,"a":0.36},{"p":"c","s":"1.10 V","w":696,"a":0.42},{"p":"c","s":"1.10 V","w":708,"a":0.48},{"p":"c","s":"1.10 V","w":720,"a":0.535},{"p":"c","s":"1.10 V","w":732,"a":0.585},{"p":"c","s":"1.10 V","w":744,"a":0.625},{"p":"c","s":"1.10 V","w":756,"a":0.655},{"p":"c","s":"1.10 V","w":768,"a":0.672},{"p":"c","s":"1.10 V","w":780,"a":0.675},{"p":"c","s":"1.10 V","w":792,"a":0.665},{"p":"c","s":"1.10 V","w":804,"a":0.645},{"p":"c","s":"1.10 V","w":816,"a":0.622},{"p":"c","s":"1.10 V","w":828,"a":0.605},{"p":"c","s":"1.10 V","w":840,"a":0.598},{"p":"c","s":"1.10 V","w":852,"a":0.605},{"p":"c","s":"1.10 V","w":862,"a":0.63},{"p":"c","s":"1.10 V","w":870,"a":0.67},{"p":"c","s":"1.10 V","w":876,"a":0.72},{"p":"c","s":"1.10 V","w":882,"a":0.74},{"p":"c","s":"1.10 V","w":886,"a":0.79},{"p":"c","s":"1.10 V","w":890,"a":0.808},{"p":"c","s":"1.10 V","w":894,"a":0.84},{"p":"c","s":"1.10 V","w":898,"a":0.88},{"p":"c","s":"1.10 V","w":904,"a":0.91},{"p":"c","s":"1.10 V","w":916,"a":0.98},{"p":"c","s":"1.10 V","w":934,"a":1.114},{"p":"c","s":"1.10 V","w":958,"a":1.283},{"p":"c","s":"1.10 V","w":982,"a":1.431},{"p":"c","s":"1.10 V","w":1006,"a":1.537},{"p":"c","s":"1.10 V","w":1030,"a":1.6},{"p":"c","s":"1.10 V","w":1046,"a":1.622},{"p":"c","s":"1.10 V","w":1062,"a":1.628},{"p":"c","s":"1.10 V","w":1078,"a":1.615},{"p":"c","s":"1.10 V","w":1094,"a":1.58},{"p":"c","s":"1.10 V","w":1110,"a":1.516},{"p":"c","s":"1.10 V","w":1122,"a":1.45},{"p":"c","s":"1.10 V","w":1134,"a":1.368},{"p":"c","s":"1.10 V","w":1146,"a":1.285},{"p":"c","s":"1.10 V","w":1158,"a":1.199},{"p":"c","s":"1.10 V","w":1170,"a":1.105},{"p":"c","s":"1.10 V","w":1182,"a":1.008},{"p":"c","s":"1.10 V","w":1194,"a":0.912},{"p":"c","s":"1.10 V","w":1206,"a":0.818},{"p":"c","s":"1.10 V","w":1218,"a":0.73},{"p":"c","s":"1.10 V","w":1230,"a":0.649},{"p":"c","s":"1.10 V","w":1242,"a":0.562},{"p":"c","s":"1.10 V","w":1254,"a":0.48},{"p":"c","s":"1.10 V","w":1266,"a":0.41},{"p":"c","s":"1.10 V","w":1278,"a":0.353},{"p":"c","s":"1.10 V","w":1290,"a":0.31},{"p":"c","s":"1.10 V","w":1302,"a":0.268},{"p":"c","s":"1.10 V","w":1314,"a":0.225},{"p":"c","s":"1.10 V","w":1326,"a":0.184},{"p":"c","s":"1.10 V","w":1338,"a":0.145},{"p":"c","s":"1.10 V","w":1350,"a":0.11},{"p":"c","s":"1.10 V","w":1362,"a":0.077},{"p":"c","s":"1.10 V","w":1374,"a":0.047},{"p":"c","s":"1.10 V","w":1388,"a":0.02},{"p":"c","s":"1.10 V","w":1400,"a":0},
{"p":"c","s":"1.60 V","w":280,"a":0.645},{"p":"c","s":"1.60 V","w":296,"a":0.607},{"p":"c","s":"1.60 V","w":308,"a":0.612},{"p":"c","s":"1.60 V","w":320,"a":0.635},{"p":"c","s":"1.60 V","w":332,"a":0.675},{"p":"c","s":"1.60 V","w":344,"a":0.696},{"p":"c","s":"1.60 V","w":352,"a":0.685},{"p":"c","s":"1.60 V","w":360,"a":0.64},{"p":"c","s":"1.60 V","w":368,"a":0.56},{"p":"c","s":"1.60 V","w":376,"a":0.47},{"p":"c","s":"1.60 V","w":388,"a":0.374},{"p":"c","s":"1.60 V","w":398,"a":0.32},{"p":"c","s":"1.60 V","w":408,"a":0.29},{"p":"c","s":"1.60 V","w":418,"a":0.27},{"p":"c","s":"1.60 V","w":428,"a":0.264},{"p":"c","s":"1.60 V","w":440,"a":0.272},{"p":"c","s":"1.60 V","w":452,"a":0.29},{"p":"c","s":"1.60 V","w":472,"a":0.332},{"p":"c","s":"1.60 V","w":504,"a":0.374},{"p":"c","s":"1.60 V","w":536,"a":0.406},{"p":"c","s":"1.60 V","w":568,"a":0.459},{"p":"c","s":"1.60 V","w":600,"a":0.512},{"p":"c","s":"1.60 V","w":632,"a":0.554},{"p":"c","s":"1.60 V","w":664,"a":0.607},{"p":"c","s":"1.60 V","w":696,"a":0.66},{"p":"c","s":"1.60 V","w":728,"a":0.744},{"p":"c","s":"1.60 V","w":744,"a":0.79},{"p":"c","s":"1.60 V","w":760,"a":0.829},{"p":"c","s":"1.60 V","w":776,"a":0.858},{"p":"c","s":"1.60 V","w":792,"a":0.878},{"p":"c","s":"1.60 V","w":808,"a":0.886},{"p":"c","s":"1.60 V","w":824,"a":0.89},{"p":"c","s":"1.60 V","w":848,"a":0.888},{"p":"c","s":"1.60 V","w":864,"a":0.888},{"p":"c","s":"1.60 V","w":880,"a":0.89},{"p":"c","s":"1.60 V","w":886,"a":0.86},{"p":"c","s":"1.60 V","w":890,"a":0.82},{"p":"c","s":"1.60 V","w":894,"a":0.84},{"p":"c","s":"1.60 V","w":902,"a":0.856},{"p":"c","s":"1.60 V","w":910,"a":0.835},{"p":"c","s":"1.60 V","w":918,"a":0.808},{"p":"c","s":"1.60 V","w":928,"a":0.76},{"p":"c","s":"1.60 V","w":938,"a":0.712},{"p":"c","s":"1.60 V","w":948,"a":0.665},{"p":"c","s":"1.60 V","w":958,"a":0.617},{"p":"c","s":"1.60 V","w":968,"a":0.57},{"p":"c","s":"1.60 V","w":978,"a":0.522},{"p":"c","s":"1.60 V","w":988,"a":0.478},{"p":"c","s":"1.60 V","w":998,"a":0.438},{"p":"c","s":"1.60 V","w":1010,"a":0.395},{"p":"c","s":"1.60 V","w":1022,"a":0.353},{"p":"c","s":"1.60 V","w":1038,"a":0.312},{"p":"c","s":"1.60 V","w":1054,"a":0.279},{"p":"c","s":"1.60 V","w":1070,"a":0.253},{"p":"c","s":"1.60 V","w":1086,"a":0.23},{"p":"c","s":"1.60 V","w":1102,"a":0.208},{"p":"c","s":"1.60 V","w":1118,"a":0.188},{"p":"c","s":"1.60 V","w":1134,"a":0.167},{"p":"c","s":"1.60 V","w":1150,"a":0.148},{"p":"c","s":"1.60 V","w":1166,"a":0.128},{"p":"c","s":"1.60 V","w":1182,"a":0.11},{"p":"c","s":"1.60 V","w":1202,"a":0.091},{"p":"c","s":"1.60 V","w":1222,"a":0.074},{"p":"c","s":"1.60 V","w":1242,"a":0.06},{"p":"c","s":"1.60 V","w":1262,"a":0.047},{"p":"c","s":"1.60 V","w":1282,"a":0.036},{"p":"c","s":"1.60 V","w":1302,"a":0.025},{"p":"c","s":"1.60 V","w":1322,"a":0.017},{"p":"c","s":"1.60 V","w":1342,"a":0.011},{"p":"c","s":"1.60 V","w":1370,"a":0.005},{"p":"c","s":"1.60 V","w":1400,"a":0}
],
"ann": [
{"p":"a","s":"0.00 V","t":"296","w":322,"a":1.035},{"p":"a","s":"0.00 V","t":"407","w":407,"a":1.447},{"p":"a","s":"1.10 V","t":"650","w":636,"a":0.87},{"p":"a","s":"1.10 V","t":"763","w":773,"a":0.887},{"p":"a","s":"1.50 V","t":"791","w":792,"a":0.454},{"p":"a","s":"0.72 V","t":"1024","w":1004,"a":0.468},
{"p":"b","s":"0.00 V","t":"303","w":324,"a":1.332},{"p":"b","s":"0.00 V","t":"407","w":402,"a":1.467},{"p":"b","s":"1.78 V","t":"560","w":546,"a":0.797},{"p":"b","s":"1.15 V","t":"661","w":660,"a":0.998},{"p":"b","s":"1.15 V","t":"868","w":864,"a":1.04},{"p":"b","s":"0.72 V","t":"965","w":958,"a":1.241},
{"p":"c","s":"0.00V","t":"309","w":324,"a":1.04},{"p":"c","s":"0.00V","t":"407","w":403,"a":1.177},{"p":"c","s":"1.60 V","t":"842","w":850,"a":0.99},{"p":"c","s":"1.10 V","t":"772","w":798,"a":0.71},{"p":"c","s":"1.10 V","t":"1061","w":1067,"a":1.743},{"p":"c","s":"0.75 V","t":"1109","w":1120,"a":0.843}
],
"arr": [
{"p":"a","k":"k","d":"down","w":446,"a1":1.43,"a2":1.26},{"p":"a","k":"k","d":"up","w":1070,"a1":0.338,"a2":0.555},{"p":"a","k":"g","d":"down","w":1092,"a1":0.57,"a2":0.455},
{"p":"b","k":"k","d":"down","w":446,"a1":1.505,"a2":1.32},{"p":"b","k":"k","d":"up","w":1008,"a1":1.093,"a2":1.28},{"p":"b","k":"g","d":"down","w":1028,"a1":1.294,"a2":1.2},
{"p":"c","k":"k","d":"down","w":448,"a1":1.23,"a2":1.06},{"p":"c","k":"k","d":"up","w":1174,"a1":0.744,"a2":0.94}
],
"rec": [
{"p":"a","t":"1st stage Recovery = 97.1%","w":571,"a":1.895},{"p":"a","t":"2nd stage Recovery = 85.3%","w":571,"a":1.759},{"p":"a","t":"3rd stage Recovery = 64.0%","w":571,"a":1.622},
{"p":"b","t":"1st stage Recovery = 99.1%","w":571,"a":1.895},{"p":"b","t":"2nd stage Recovery = 96.5%","w":571,"a":1.757},{"p":"b","t":"3rd stage Recovery = 93.3%","w":571,"a":1.62},
{"p":"c","t":"1st stage Recovery = 99.8%","w":571,"a":1.916},{"p":"c","t":"2nd stage Recovery = 98.2%","w":571,"a":1.779},{"p":"c","t":"3rd stage Recovery = 96.7%","w":571,"a":1.637}
]
},
"vconcat": [
{
"width": 470, "height": 355,
"title": {"text": "(a)", "anchor": "start", "frame": "group", "orient": "top", "baseline": "top", "offset": 8, "dx": -127, "dy": 36, "fontSize": 38, "fontWeight": "bold", "font": "Liberation Sans", "color": "black"},
"layer": [
{"data": {"values": [{}]}, "mark": {"type": "rect", "color": "black"},
 "encoding": {"x": {"datum": 1167, "type": "quantitative", "scale": {"domain": [280, 1400], "nice": false, "zero": false}}, "x2": {"datum": 1397}, "y": {"datum": 1.945, "type": "quantitative", "scale": {"domain": [-0.25, 2], "nice": false, "zero": false}}, "y2": {"datum": 1.4}}},
{"data": {"name": "lines"}, "transform": [{"filter": "datum.p == 'a'"}],
 "mark": {"type": "line", "strokeWidth": 1.3, "interpolate": "monotone"},
 "encoding": {
  "x": {"field": "w", "type": "quantitative", "scale": {"domain": [280, 1400], "nice": false, "zero": false},
    "axis": {"title": "Wavelength (nm)", "values": [300,400,500,600,700,800,900,1000,1100,1200,1300,1400], "labelExpr": "datum.value % 200 == 0 ? datum.label : ''", "format": "d", "labelFlush": false, "labelOverlap": false, "tickSize": {"condition": {"test": "datum.value % 200 == 0", "value": 7}, "value": 4}}},
  "y": {"field": "a", "type": "quantitative", "scale": {"domain": [-0.25, 2], "nice": false, "zero": false},
    "axis": {"title": "Absorbance", "values": [0, 0.5, 1, 1.5, 2], "format": ".1f", "labelFlush": false, "tickSize": 8}},
  "color": {"field": "s", "type": "nominal", "scale": {"domain": ["0.00 V","0.72 V","1.10 V","1.50 V"], "range": ["#000000","#f4392c","#3f4fb6","#179a4b"]},
    "legend": {"title": null, "orient": "none", "legendX": 366, "legendY": 3, "direction": "vertical", "padding": 3, "strokeColor": "#8c8c8c", "fillColor": "white", "symbolType": "M-3.2,0H3.2", "symbolSize": 144, "symbolStrokeWidth": 1.3, "symbolOffset": 8, "labelOffset": 16, "labelFontSize": 17, "labelFontWeight": "bold", "labelFont": "Liberation Sans", "labelColor": "black", "rowPadding": 3.7, "labelLimit": 0}}
 }},
{"data": {"name": "ann"}, "transform": [{"filter": "datum.p == 'a'"}],
 "mark": {"type": "text", "fontSize": 17, "fontWeight": "bold", "font": "Liberation Sans", "align": "center", "baseline": "middle"},
 "encoding": {"x": {"field": "w", "type": "quantitative"}, "y": {"field": "a", "type": "quantitative"}, "text": {"field": "t"},
  "color": {"field": "s", "type": "nominal", "legend": null}}},
{"data": {"name": "arr"}, "transform": [{"filter": "datum.p == 'a'"}],
 "mark": {"type": "rule", "strokeWidth": 1.5},
 "encoding": {"x": {"field": "w", "type": "quantitative"}, "y": {"field": "a1", "type": "quantitative"}, "y2": {"field": "a2"},
  "stroke": {"field": "k", "type": "nominal", "scale": {"domain": ["k","g"], "range": ["#000000","#8c8c8c"]}, "legend": null}}},
{"data": {"name": "arr"}, "transform": [{"filter": "datum.p == 'a'"}],
 "mark": {"type": "point", "filled": true, "size": 45, "strokeWidth": 0, "opacity": 1},
 "encoding": {"x": {"field": "w", "type": "quantitative"}, "y": {"field": "a2", "type": "quantitative"},
  "shape": {"field": "d", "type": "nominal", "scale": {"domain": ["down","up"], "range": ["triangle-down","triangle-up"]}, "legend": null},
  "fill": {"field": "k", "type": "nominal", "scale": {"domain": ["k","g"], "range": ["#000000","#8c8c8c"]}, "legend": null}}},
{"data": {"name": "rec"}, "transform": [{"filter": "datum.p == 'a'"}],
 "mark": {"type": "text", "fontSize": 17, "fontWeight": "bold", "font": "Liberation Sans", "align": "center", "baseline": "middle", "color": "black"},
 "encoding": {"x": {"field": "w", "type": "quantitative"}, "y": {"field": "a", "type": "quantitative"}, "text": {"field": "t"}}}
]
},
{
"width": 470, "height": 355,
"title": {"text": "(b)", "anchor": "start", "frame": "group", "orient": "top", "baseline": "top", "offset": 8, "dx": -127, "dy": 36, "fontSize": 38, "fontWeight": "bold", "font": "Liberation Sans", "color": "black"},
"layer": [
{"data": {"values": [{}]}, "mark": {"type": "rect", "color": "black"},
 "encoding": {"x": {"datum": 1167, "type": "quantitative", "scale": {"domain": [280, 1400], "nice": false, "zero": false}}, "x2": {"datum": 1397}, "y": {"datum": 1.945, "type": "quantitative", "scale": {"domain": [-0.25, 2], "nice": false, "zero": false}}, "y2": {"datum": 1.4}}},
{"data": {"name": "lines"}, "transform": [{"filter": "datum.p == 'b'"}],
 "mark": {"type": "line", "strokeWidth": 1.3, "interpolate": "monotone"},
 "encoding": {
  "x": {"field": "w", "type": "quantitative", "scale": {"domain": [280, 1400], "nice": false, "zero": false},
    "axis": {"title": "Wavelength (nm)", "values": [300,400,500,600,700,800,900,1000,1100,1200,1300,1400], "labelExpr": "datum.value % 200 == 0 ? datum.label : ''", "format": "d", "labelFlush": false, "labelOverlap": false, "tickSize": {"condition": {"test": "datum.value % 200 == 0", "value": 7}, "value": 4}}},
  "y": {"field": "a", "type": "quantitative", "scale": {"domain": [-0.25, 2], "nice": false, "zero": false},
    "axis": {"title": "Absorbance", "values": [0, 0.5, 1, 1.5, 2], "format": ".1f", "labelFlush": false, "tickSize": 8}},
  "color": {"field": "s", "type": "nominal", "scale": {"domain": ["0.00 V","0.72 V","1.15 V","1.78 V"], "range": ["#000000","#f4392c","#3f4fb6","#179a4b"]},
    "legend": {"title": null, "orient": "none", "legendX": 366, "legendY": 3, "direction": "vertical", "padding": 3, "strokeColor": "#8c8c8c", "fillColor": "white", "symbolType": "M-3.2,0H3.2", "symbolSize": 144, "symbolStrokeWidth": 1.3, "symbolOffset": 8, "labelOffset": 16, "labelFontSize": 17, "labelFontWeight": "bold", "labelFont": "Liberation Sans", "labelColor": "black", "rowPadding": 3.7, "labelLimit": 0}}
 }},
{"data": {"name": "ann"}, "transform": [{"filter": "datum.p == 'b'"}],
 "mark": {"type": "text", "fontSize": 17, "fontWeight": "bold", "font": "Liberation Sans", "align": "center", "baseline": "middle"},
 "encoding": {"x": {"field": "w", "type": "quantitative"}, "y": {"field": "a", "type": "quantitative"}, "text": {"field": "t"},
  "color": {"field": "s", "type": "nominal", "legend": null}}},
{"data": {"name": "arr"}, "transform": [{"filter": "datum.p == 'b'"}],
 "mark": {"type": "rule", "strokeWidth": 1.5},
 "encoding": {"x": {"field": "w", "type": "quantitative"}, "y": {"field": "a1", "type": "quantitative"}, "y2": {"field": "a2"},
  "stroke": {"field": "k", "type": "nominal", "scale": {"domain": ["k","g"], "range": ["#000000","#8c8c8c"]}, "legend": null}}},
{"data": {"name": "arr"}, "transform": [{"filter": "datum.p == 'b'"}],
 "mark": {"type": "point", "filled": true, "size": 45, "strokeWidth": 0, "opacity": 1},
 "encoding": {"x": {"field": "w", "type": "quantitative"}, "y": {"field": "a2", "type": "quantitative"},
  "shape": {"field": "d", "type": "nominal", "scale": {"domain": ["down","up"], "range": ["triangle-down","triangle-up"]}, "legend": null},
  "fill": {"field": "k", "type": "nominal", "scale": {"domain": ["k","g"], "range": ["#000000","#8c8c8c"]}, "legend": null}}},
{"data": {"name": "rec"}, "transform": [{"filter": "datum.p == 'b'"}],
 "mark": {"type": "text", "fontSize": 17, "fontWeight": "bold", "font": "Liberation Sans", "align": "center", "baseline": "middle", "color": "black"},
 "encoding": {"x": {"field": "w", "type": "quantitative"}, "y": {"field": "a", "type": "quantitative"}, "text": {"field": "t"}}}
]
},
{
"width": 470, "height": 355,
"title": {"text": "(c)", "anchor": "start", "frame": "group", "orient": "top", "baseline": "top", "offset": 8, "dx": -127, "dy": 36, "fontSize": 38, "fontWeight": "bold", "font": "Liberation Sans", "color": "black"},
"layer": [
{"data": {"values": [{}]}, "mark": {"type": "rect", "color": "black"},
 "encoding": {"x": {"datum": 1167, "type": "quantitative", "scale": {"domain": [280, 1400], "nice": false, "zero": false}}, "x2": {"datum": 1397}, "y": {"datum": 1.945, "type": "quantitative", "scale": {"domain": [-0.25, 2], "nice": false, "zero": false}}, "y2": {"datum": 1.4}}},
{"data": {"name": "lines"}, "transform": [{"filter": "datum.p == 'c'"}],
 "mark": {"type": "line", "strokeWidth": 1.3, "interpolate": "monotone"},
 "encoding": {
  "x": {"field": "w", "type": "quantitative", "scale": {"domain": [280, 1400], "nice": false, "zero": false},
    "axis": {"title": "Wavelength (nm)", "values": [300,400,500,600,700,800,900,1000,1100,1200,1300,1400], "labelExpr": "datum.value % 200 == 0 ? datum.label : ''", "format": "d", "labelFlush": false, "labelOverlap": false, "tickSize": {"condition": {"test": "datum.value % 200 == 0", "value": 7}, "value": 4}}},
  "y": {"field": "a", "type": "quantitative", "scale": {"domain": [-0.25, 2], "nice": false, "zero": false},
    "axis": {"title": "Absorbance", "values": [0, 0.5, 1, 1.5, 2], "format": ".1f", "labelFlush": false, "tickSize": 8}},
  "color": {"field": "s", "type": "nominal", "scale": {"domain": ["0.00V","0.75 V","1.10 V","1.60 V"], "range": ["#000000","#f4392c","#3f4fb6","#179a4b"]},
    "legend": {"title": null, "orient": "none", "legendX": 366, "legendY": 3, "direction": "vertical", "padding": 3, "strokeColor": "#8c8c8c", "fillColor": "white", "symbolType": "M-3.2,0H3.2", "symbolSize": 144, "symbolStrokeWidth": 1.3, "symbolOffset": 8, "labelOffset": 16, "labelFontSize": 17, "labelFontWeight": "bold", "labelFont": "Liberation Sans", "labelColor": "black", "rowPadding": 3.7, "labelLimit": 0}}
 }},
{"data": {"name": "ann"}, "transform": [{"filter": "datum.p == 'c'"}],
 "mark": {"type": "text", "fontSize": 17, "fontWeight": "bold", "font": "Liberation Sans", "align": "center", "baseline": "middle"},
 "encoding": {"x": {"field": "w", "type": "quantitative"}, "y": {"field": "a", "type": "quantitative"}, "text": {"field": "t"},
  "color": {"field": "s", "type": "nominal", "legend": null}}},
{"data": {"name": "arr"}, "transform": [{"filter": "datum.p == 'c'"}],
 "mark": {"type": "rule", "strokeWidth": 1.5},
 "encoding": {"x": {"field": "w", "type": "quantitative"}, "y": {"field": "a1", "type": "quantitative"}, "y2": {"field": "a2"},
  "stroke": {"field": "k", "type": "nominal", "scale": {"domain": ["k","g"], "range": ["#000000","#8c8c8c"]}, "legend": null}}},
{"data": {"name": "arr"}, "transform": [{"filter": "datum.p == 'c'"}],
 "mark": {"type": "point", "filled": true, "size": 45, "strokeWidth": 0, "opacity": 1},
 "encoding": {"x": {"field": "w", "type": "quantitative"}, "y": {"field": "a2", "type": "quantitative"},
  "shape": {"field": "d", "type": "nominal", "scale": {"domain": ["down","up"], "range": ["triangle-down","triangle-up"]}, "legend": null},
  "fill": {"field": "k", "type": "nominal", "scale": {"domain": ["k","g"], "range": ["#000000","#8c8c8c"]}, "legend": null}}},
{"data": {"name": "rec"}, "transform": [{"filter": "datum.p == 'c'"}],
 "mark": {"type": "text", "fontSize": 17, "fontWeight": "bold", "font": "Liberation Sans", "align": "center", "baseline": "middle", "color": "black"},
 "encoding": {"x": {"field": "w", "type": "quantitative"}, "y": {"field": "a", "type": "quantitative"}, "text": {"field": "t"}}}
]
}
],
"spacing": 6.5,
"resolve": {"scale": {"color": "independent", "stroke": "independent", "fill": "independent", "shape": "independent"}, "legend": {"color": "independent"}},
"config": {
 "view": {"stroke": "black", "strokeWidth": 2},
 "axis": {"domainColor": "black", "domainWidth": 2, "tickColor": "black", "tickWidth": 1.5, "labelColor": "black", "titleColor": "black", "labelFont": "Liberation Sans", "titleFont": "Liberation Sans", "labelFontSize": 17, "titleFontSize": 17, "labelFontWeight": "bold", "titleFontWeight": "bold", "grid": false},
 "axisX": {"labelPadding": 5, "titlePadding": 12},
 "axisY": {"labelPadding": 5, "titlePadding": 22}
}
}
